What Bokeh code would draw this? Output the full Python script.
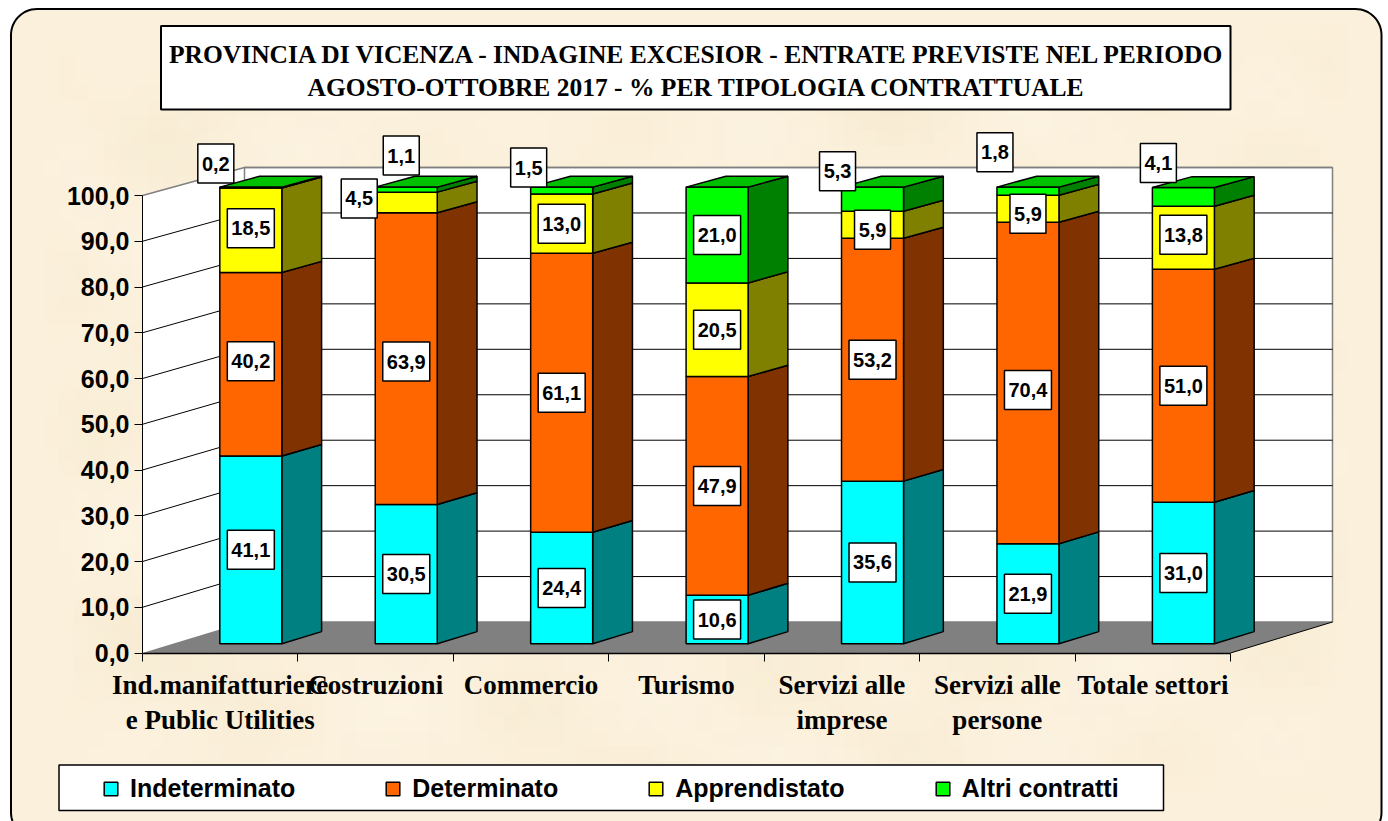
from bokeh.embed import file_html
from bokeh.resources import INLINE
from bokeh.plotting import figure
from bokeh.models import Range1d, FixedTicker, Legend, LegendItem
from bokeh.core.properties import value
import numpy as np

# ---------- data ----------
categories = ["Ind.manifatturiere\ne Public Utilities", "Costruzioni", "Commercio", "Turismo",
              "Servizi alle\nimprese", "Servizi alle\npersone", "Totale settori"]
indeterminato = [41.1, 30.5, 24.4, 10.6, 35.6, 21.9, 31.0]
determinato = [40.2, 63.9, 61.1, 47.9, 53.2, 70.4, 51.0]
apprendistato = [18.5, 4.5, 13.0, 20.5, 5.9, 5.9, 13.8]
altri = [0.2, 1.1, 1.5, 21.0, 5.3, 1.8, 4.1]
series_names = ["Indeterminato", "Determinato", "Apprendistato", "Altri contratti"]
y_ticks = [0, 10, 20, 30, 40, 50, 60, 70, 80, 90, 100]
y_tick_labels = ["0,0", "10,0", "20,0", "30,0", "40,0", "50,0", "60,0", "70,0", "80,0", "90,0", "100,0"]
title_lines = ["PROVINCIA DI VICENZA - INDAGINE EXCESIOR - ENTRATE PREVISTE NEL PERIODO",
               "AGOSTO-OTTOBRE 2017 - % PER TIPOLOGIA CONTRATTUALE"]

# ---------- styles and layout ----------
front_colors = ["#00FFFF", "#FF6600", "#FFFF00", "#00FF00"]
side_colors = ["#008080", "#803300", "#808000", "#008000"]
top_color = "#00C000"
paper = "#FBF0DB"
W, H = 1388, 821
X0, Y0, CAT_PX, UNIT_PX = 142.0, 652.5, 1088 / 7, 4.575
DX, DY = 102 / CAT_PX, 31 / UNIT_PX     # full depth of the 3D box
D_FRONT, D_BACK = 0.30, 0.69            # depth of the bars
BAR_W = 62 / CAT_PX


def X(px):
    return (px - X0) / CAT_PX


def Y(py):
    return (Y0 - py) / UNIT_PX


def px_x(v, d=0.0):
    return v + d * DX


def px_y(v, d=0.0):
    return v * (1 - 0.0066 * d) + d * DY


p = figure(width=W, height=H, output_backend="svg", toolbar_location=None, min_border=0,
           x_range=Range1d(X(0), X(W)), y_range=Range1d(Y(H), Y(0)),
           background_fill_color="white", border_fill_color="white", outline_line_color=None)
p.grid.visible = False

# rounded paper
l, r, t, b, rad = 10.5, 1381, 8.5, 838, 26
ang = np.linspace(0, np.pi / 2, 16)
px_outline = np.r_[l + rad - rad * np.cos(ang), r - rad + rad * np.sin(ang),
                   r - rad + rad * np.cos(ang), l + rad - rad * np.sin(ang)]
py_outline = np.r_[t + rad - rad * np.sin(ang), t + rad - rad * np.cos(ang),
                   b - rad + rad * np.sin(ang), b - rad + rad * np.cos(ang)]
p.patch(X(px_outline), Y(py_outline), fill_color=paper, line_color="black", line_width=2)

# soft mottling of the paper: a faint overlay that fades out before the rounded edge
tex_w, tex_h = 92, 54
tx, ty = np.meshgrid(np.linspace(0, 1, tex_w), np.linspace(0, 1, tex_h))
mottle = (np.sin(23 * tx + 2.1 * np.sin(9 * ty)) + np.sin(17 * ty + 1.7 * np.sin(13 * tx))
          + np.sin(31 * (tx + ty) + 1.3) + np.sin(37 * (tx - 0.6 * ty) + 0.4)) / 4
fade = np.clip(np.minimum.reduce([tx, 1 - tx, ty, 1 - ty]) * 30 - 0.4, 0, 1)
rgba = np.zeros((tex_h, tex_w, 4), dtype=np.uint8)
light = mottle > 0
rgba[..., 0] = np.where(light, 255, 240)
rgba[..., 1] = np.where(light, 250, 224)
rgba[..., 2] = np.where(light, 240, 190)
rgba[..., 3] = np.clip(np.abs(mottle) * 70 * fade, 0, 255).astype(np.uint8)
p.image_rgba(image=[rgba.view(np.uint32).reshape(tex_h, tex_w)], x=X(14), y=Y(821), dw=X(1378) - X(14), dh=Y(10) - Y(821))

# walls and floor
p.patch([px_x(0), px_x(0, 1), px_x(0, 1), px_x(0)], [px_y(0), px_y(0, 1), px_y(100, 1), px_y(100)],
        fill_color="white", line_color=None)
p.patch([px_x(0, 1), px_x(7, 1), px_x(7, 1), px_x(0, 1)], [px_y(0, 1), px_y(0, 1), px_y(100, 1), px_y(100, 1)],
        fill_color="white", line_color="#808080", line_width=1.5)
p.patch([px_x(0), px_x(0, 1), px_x(7, 1), px_x(7)], [px_y(0), px_y(0, 1), px_y(0, 1), px_y(0)],
        fill_color="#808080", line_color=None)
p.line([px_x(7), px_x(7, 1)], [px_y(0), px_y(0, 1)], line_color="black", line_width=1)
gx, gy = [], []
for v in y_ticks[1:]:
    gx.append([px_x(0), px_x(0, 1), px_x(7, 1)])
    gy.append([px_y(v), px_y(v, 1), px_y(v, 1)])
p.multi_line(gx[:-1], gy[:-1], line_color="black", line_width=1)
p.multi_line(gx[-1:], gy[-1:], line_color="#808080", line_width=1.5)

# bars
series = [indeterminato, determinato, apprendistato, altri]
centers = np.arange(len(categories)) + 0.5
bottoms = np.zeros(len(categories))
renderers = []
for k, vals in enumerate(series):
    vals = np.array(vals)
    tops = bottoms + vals
    xs = [[px_x(c + BAR_W / 2, D_FRONT), px_x(c + BAR_W / 2, D_BACK), px_x(c + BAR_W / 2, D_BACK), px_x(c + BAR_W / 2, D_FRONT)]
          for c in centers]
    ys = [[px_y(a, D_FRONT), px_y(a, D_BACK), px_y(z, D_BACK), px_y(z, D_FRONT)] for a, z in zip(bottoms, tops)]
    p.patches(xs, ys, fill_color=side_colors[k], line_color="black", line_width=1.5)
    renderers.append(p.vbar(x=px_x(centers, D_FRONT), width=BAR_W, bottom=px_y(bottoms, D_FRONT), top=px_y(tops, D_FRONT),
                            fill_color=front_colors[k], line_color="black", line_width=1.5))
    bottoms = tops
txs = [[px_x(c - BAR_W / 2, D_FRONT), px_x(c - BAR_W / 2, D_BACK), px_x(c + BAR_W / 2, D_BACK), px_x(c + BAR_W / 2, D_FRONT)]
       for c in centers]
tys = [[px_y(z, D_FRONT), px_y(z, D_BACK), px_y(z, D_BACK), px_y(z, D_FRONT)] for z in bottoms]
p.patches(txs, tys, fill_color=top_color, line_color="black", line_width=1.5)

# value labels: (bar, series) -> pixel shift from the middle of the segment (positive = up)
label_shift = {(0, 3): (-35, 24), (1, 3): (-5, 34), (1, 2): (-47, 4), (2, 3): (-33, 23),
               (4, 3): (-35, 28), (5, 3): (-33, 39), (6, 3): (-25, 34),
               (4, 2): (0, -5), (5, 2): (0, -5), (0, 1): (0, 3), (1, 1): (0, -3),
               (5, 1): (0, -7), (6, 2): (0, 3), (0, 2): (0, 2)}
lx, ly, lt, lw = [], [], [], []
for i in range(len(categories)):
    base = 0.0
    for k, vals in enumerate(series):
        v = vals[i]
        sx, sy = label_shift.get((i, k), (0, 0))
        lx.append(px_x(centers[i], D_FRONT) + sx / CAT_PX)
        ly.append(px_y(base + v / 2, D_FRONT) + sy / UNIT_PX)
        text = f"{v:.1f}".replace(".", ",")
        lt.append(text)
        lw.append(47 if len(text) > 3 else 36)
        base += v
p.rect(lx, ly, width=lw, height=39, width_units="screen", height_units="screen",
       fill_color="white", line_color="black", line_width=1.5)
p.text(lx, ly, text=lt, text_align="center", text_baseline="middle", text_font=value("Liberation Sans"),
       text_font_style="bold", text_font_size="20px", text_color="black")

# title box
p.quad(left=X(160.5), right=X(1230), top=Y(25.5), bottom=Y(109), fill_color="white", line_color="black", line_width=2)
p.text([X(697.5), X(696)], [Y(53.5), Y(87)], text=title_lines, text_align="center", text_baseline="middle",
       text_font=value("Liberation Serif"), text_font_style="bold", text_font_size="25.5px", text_color="black")

# legend box
p.quad(left=X(58.5), right=X(1163), top=Y(764.5), bottom=Y(810), fill_color="white", line_color="black", line_width=1.5)
legend = Legend(items=[LegendItem(label=n, renderers=[rr]) for n, rr in zip(series_names, renderers)],
                orientation="horizontal", location=(104 - 2, H - 788 - 15),
                border_line_color=None, background_fill_alpha=0, padding=5, margin=0, spacing=89,
                glyph_width=17, glyph_height=17, label_standoff=11,
                label_text_font="Liberation Sans", label_text_font_style="bold", label_text_font_size="25px",
                label_text_color="black")
p.add_layout(legend)

# axes
ya = p.yaxis[0]
ya.fixed_location = 0
ya.bounds = (0, 100)
ya.ticker = FixedTicker(ticks=y_ticks)
ya.major_label_overrides = dict(zip(y_ticks, y_tick_labels))
ya.major_label_text_font = "Liberation Sans"
ya.major_label_text_font_style = "bold"
ya.major_label_text_font_size = "25px"
ya.major_label_text_color = "black"
ya.major_label_standoff = 5
ya.major_tick_out = 8
ya.major_tick_in = 0
ya.minor_tick_out = 0
ya.minor_tick_in = 0
ya.axis_line_color = "black"
ya.major_tick_line_color = "black"

xa = p.xaxis[0]
xa.fixed_location = 0
xa.bounds = (0, 7)
xa.ticker = FixedTicker(ticks=list(centers), minor_ticks=list(range(8)))
xa.major_label_overrides = dict(zip(list(centers), categories))
xa.major_label_text_font = "Liberation Serif"
xa.major_label_text_font_style = "bold"
xa.major_label_text_font_size = "27px"
xa.major_label_text_color = "black"
xa.major_label_text_line_height = 1.15
xa.major_label_standoff = 9
xa.major_tick_out = 0
xa.major_tick_in = 0
xa.minor_tick_out = 8
xa.minor_tick_in = 0
xa.minor_tick_line_color = "black"
xa.axis_line_color = "black"
xa.axis_line_width = 1.5

open("out.html", "w").write(file_html(p, INLINE))
